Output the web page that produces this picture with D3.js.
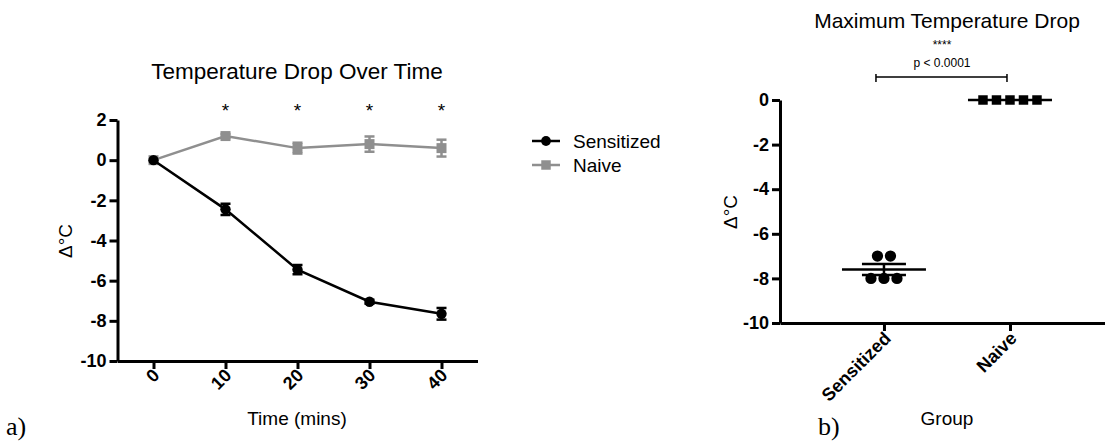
<!DOCTYPE html>
<html>
<head>
<meta charset="utf-8">
<script src="https://cdn.jsdelivr.net/npm/d3@7"></script>
<style>
  body { margin: 0; background: #fff; }
  svg { display: block; font-family: "Liberation Sans", Arial, sans-serif; }
  .axis path, .axis line { stroke: #000; stroke-width: 3; }
  .axis text { font-size: 18px; font-weight: bold; fill: #000; }
</style>
</head>
<body>
<script>
// a) time course
var times = [0, 10, 20, 30, 40];
var sensitizedMean = [0, -2.45, -5.45, -7.05, -7.65];
var sensitizedErr = [0, 0.28, 0.23, 0.1, 0.29];
var naiveMean = [0, 1.2, 0.6, 0.8, 0.6];
var naiveErr = [0, 0.1, 0.27, 0.38, 0.42];
var starTimes = [10, 20, 30, 40];
var seriesNames = ["Sensitized", "Naive"];
var yTicksA = [-10, -8, -6, -4, -2, 0, 2];

// b) maximum drop, individual animals
var groups = ["Sensitized", "Naive"];
var sensitizedMax = [-7, -7, -8, -8, -8];
var naiveMax = [0, 0, 0, 0, 0];
var yTicksB = [-10, -8, -6, -4, -2, 0];

var W = 1105, H = 442;
var grey = "#8f8f8f";

var svg = d3.select("body").append("svg").attr("width", W).attr("height", H);

/* ---------- panel a ---------- */
var xA = d3.scaleLinear().domain([-5, 45]).range([117.5, 477.5]);
var yA = d3.scaleLinear().domain([-10, 2]).range([361, 120]);

svg.append("g").attr("class", "axis")
  .attr("transform", "translate(" + xA.range()[0] + ",0)")
  .call(d3.axisLeft(yA).tickValues(yTicksA).tickFormat(String).tickSize(8).tickSizeOuter(0).tickPadding(3));

var gxA = svg.append("g").attr("class", "axis")
  .attr("transform", "translate(0," + yA.range()[0] + ")")
  .call(d3.axisBottom(xA).tickValues(times).tickFormat(String).tickSize(8).tickSizeOuter(0));
gxA.selectAll("text")
  .attr("text-anchor", "end")
  .attr("transform", "translate(2,11) rotate(-45)")
  .attr("dy", "0.35em").attr("y", 0).attr("x", 0);

function drawSeries(mean, err, color, shape) {
  var pts = times.map(function (t, i) { return { x: t, y: mean[i], e: err[i] }; });
  var g = svg.append("g");
  g.append("path").datum(pts)
    .attr("fill", "none").attr("stroke", color).attr("stroke-width", 2.5)
    .attr("d", d3.line().x(function (d) { return xA(d.x); }).y(function (d) { return yA(d.y); }));
  var eb = g.selectAll(".eb").data(pts.filter(function (d) { return d.e > 0; })).enter().append("g")
    .attr("stroke", color).attr("stroke-width", 2.5);
  eb.append("line")
    .attr("x1", function (d) { return xA(d.x); }).attr("x2", function (d) { return xA(d.x); })
    .attr("y1", function (d) { return yA(d.y + d.e); }).attr("y2", function (d) { return yA(d.y - d.e); });
  [1, -1].forEach(function (s) {
    eb.append("line")
      .attr("x1", function (d) { return xA(d.x) - 5; }).attr("x2", function (d) { return xA(d.x) + 5; })
      .attr("y1", function (d) { return yA(d.y + s * d.e); }).attr("y2", function (d) { return yA(d.y + s * d.e); });
  });
  var sym = d3.symbol().type(shape).size(shape === d3.symbolCircle ? 85 : 100);
  g.selectAll(".m").data(pts).enter().append("path")
    .attr("transform", function (d) { return "translate(" + xA(d.x) + "," + yA(d.y) + ")"; })
    .attr("d", sym).attr("fill", color);
}
drawSeries(naiveMean, naiveErr, grey, d3.symbolSquare);
drawSeries(sensitizedMean, sensitizedErr, "#000", d3.symbolCircle);

svg.selectAll(".star").data(starTimes).enter().append("text")
  .attr("x", function (d) { return xA(d); }).attr("y", yA(2) - 3)
  .attr("text-anchor", "middle").attr("font-size", 19).text("*");

svg.append("text").attr("x", 297).attr("y", 79).attr("text-anchor", "middle")
  .attr("font-size", 22.5).text("Temperature Drop Over Time");
svg.append("text").attr("x", 297).attr("y", 425).attr("text-anchor", "middle")
  .attr("font-size", 19).text("Time (mins)");
svg.append("text").attr("transform", "translate(72,241) rotate(-90)").attr("text-anchor", "middle")
  .attr("font-size", 19).text("\u0394\u00B0C");

// legend
var legend = svg.selectAll(".leg").data(seriesNames).enter().append("g")
  .attr("transform", function (d, i) { return "translate(532," + (141 + i * 24) + ")"; });
legend.append("line").attr("x1", 0).attr("x2", 28)
  .attr("stroke", function (d, i) { return i ? grey : "#000"; }).attr("stroke-width", 2.5);
legend.append("path").attr("transform", "translate(14,0)")
  .attr("d", function (d, i) { return d3.symbol().type(i ? d3.symbolSquare : d3.symbolCircle).size(i ? 90 : 75)(); })
  .attr("fill", function (d, i) { return i ? grey : "#000"; });
legend.append("text").attr("x", 41).attr("dy", "0.35em").attr("font-size", 19).text(function (d) { return d; });

svg.append("text").attr("x", 6).attr("y", 435).attr("font-family", "Liberation Serif, serif")
  .attr("font-size", 26).text("a)");

/* ---------- panel b ---------- */
var xB = d3.scaleLinear().domain([-0.825, 1.754]).range([780, 1105]);
var yB = d3.scaleLinear().domain([-10, 0]).range([323, 100]);

svg.append("g").attr("class", "axis")
  .attr("transform", "translate(" + xB.range()[0] + ",0)")
  .call(d3.axisLeft(yB).tickValues(yTicksB).tickFormat(String).tickSize(8).tickSizeOuter(0).tickPadding(3));

var gxB = svg.append("g").attr("class", "axis")
  .attr("transform", "translate(0," + yB.range()[0] + ")")
  .call(d3.axisBottom(xB).tickValues([0, 1]).tickFormat(function (i) { return groups[i]; })
    .tickSize(8).tickSizeOuter(0));
gxB.selectAll("text")
  .attr("text-anchor", "end")
  .attr("transform", "translate(3,12) rotate(-45)")
  .attr("dy", "0.35em").attr("y", 0).attr("x", 0);

function drawGroup(vals, gi, shape, size, spacing) {
  // spread equal values side by side around the group centre
  var counts = {}, seen = {};
  vals.forEach(function (v) { counts[v] = (counts[v] || 0) + 1; });
  var pts = vals.map(function (v) {
    var k = seen[v] = (seen[v] || 0) + 1;
    return { v: v, off: (k - 1 - (counts[v] - 1) / 2) * spacing };
  });
  var mean = d3.mean(vals);
  var sem = d3.deviation(vals) / Math.sqrt(vals.length);
  var cx = xB(gi);
  var g = svg.append("g");
  g.selectAll("path").data(pts).enter().append("path")
    .attr("transform", function (d) { return "translate(" + (cx + d.off) + "," + yB(d.v) + ")"; })
    .attr("d", d3.symbol().type(shape).size(size)).attr("fill", "#000");
  g.append("line").attr("x1", cx - 42).attr("x2", cx + 42)
    .attr("y1", yB(mean)).attr("y2", yB(mean)).attr("stroke", "#000").attr("stroke-width", 2.5);
  if (sem > 0) {
    g.append("line").attr("x1", cx).attr("x2", cx).attr("y1", yB(mean + sem)).attr("y2", yB(mean - sem))
      .attr("stroke", "#000").attr("stroke-width", 2.5);
    [1, -1].forEach(function (s) {
      g.append("line").attr("x1", cx - 22).attr("x2", cx + 22)
        .attr("y1", yB(mean + s * sem)).attr("y2", yB(mean + s * sem))
        .attr("stroke", "#000").attr("stroke-width", 2.5);
    });
  }
}
drawGroup(sensitizedMax, 0, d3.symbolCircle, 100, 13);
drawGroup(naiveMax, 1, d3.symbolSquare, 90, 13.5);

svg.append("text").attr("x", 947).attr("y", 28).attr("text-anchor", "middle")
  .attr("font-size", 21).text("Maximum Temperature Drop");
svg.append("text").attr("x", 942).attr("y", 49).attr("text-anchor", "middle")
  .attr("font-size", 12).text("****");
svg.append("text").attr("x", 942).attr("y", 67).attr("text-anchor", "middle")
  .attr("font-size", 12).text("p < 0.0001");
var brY = 77, brL = xB(0) - 8, brR = xB(1) - 3;
svg.append("path").attr("d", "M" + brL + "," + brY + "H" + brR + "M" + brL + "," + (brY - 3) + "V" + (brY + 5) + "M" + brR + "," + (brY - 3) + "V" + (brY + 5))
  .attr("stroke", "#000").attr("stroke-width", 1.5).attr("fill", "none");

svg.append("text").attr("x", 947).attr("y", 425).attr("text-anchor", "middle")
  .attr("font-size", 19).text("Group");
svg.append("text").attr("transform", "translate(737,212) rotate(-90)").attr("text-anchor", "middle")
  .attr("font-size", 19).text("\u0394\u00B0C");

svg.append("text").attr("x", 818).attr("y", 435).attr("font-family", "Liberation Serif, serif")
  .attr("font-size", 26).text("b)");
</script>
</body>
</html>
